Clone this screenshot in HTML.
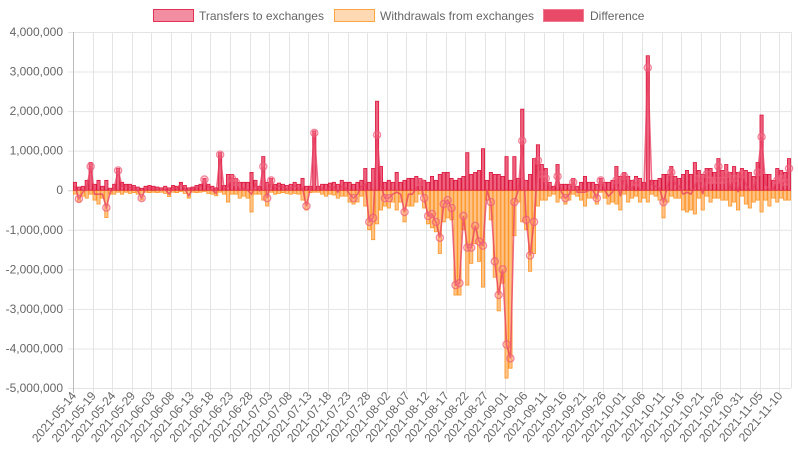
<!DOCTYPE html>
<html><head><meta charset="utf-8"><style>
html,body{margin:0;padding:0;background:#fff;width:798px;height:450px;overflow:hidden;font-family:"Liberation Sans",sans-serif;}
svg text{font-family:"Liberation Sans",sans-serif;fill:#666;font-size:12px;}
</style></head><body>
<svg id="chart" width="798" height="450" xmlns="http://www.w3.org/2000/svg">
  <g>
    <g>
      <rect x="153.5" y="9.5" width="40" height="12" fill="rgba(236,80,110,0.65)" stroke="rgb(226,50,85)" stroke-width="1"/>
      <text x="199" y="20">Transfers to exchanges</text>
    </g>
    <g>
      <rect x="334.5" y="9.5" width="40" height="12" fill="rgba(255,190,130,0.6)" stroke="rgb(255,165,70)" stroke-width="1"/>
      <text x="380" y="20">Withdrawals from exchanges</text>
    </g>
    <g>
      <rect x="543.5" y="9.5" width="40" height="12" fill="#e94a68" stroke="#f07a90" stroke-width="1"/>
      <text x="590" y="20">Difference</text>
    </g>
  </g>
  <g id="grid"></g>
  <g id="yaxis"></g>
  <g id="xaxis"></g>
  <g id="bars"></g>
  <g id="line"></g>
</svg>
<script>
// values in thousands
const transfers = [
200,80,100,250,700,150,250,100,250,50,
150,550,200,150,150,120,80,50,100,120,
100,80,60,100,60,120,100,200,120,60,
80,120,150,300,150,100,60,950,120,400,
400,300,200,200,200,450,250,100,850,200,
300,150,180,150,120,150,200,150,300,100,
100,1500,100,150,150,180,200,150,250,200,
200,150,200,250,550,200,550,2250,600,200,
250,200,450,200,250,300,300,350,300,250,
200,350,250,400,450,450,300,250,300,350,
950,400,450,500,1050,250,450,400,400,350,
850,250,850,300,2050,250,400,800,1150,650,
550,200,100,650,150,150,150,300,100,200,
350,200,200,150,300,200,200,
250,600,350,450,350,250,350,300,200,3400,
250,250,300,400,400,600,350,300,400,500,
400,700,500,400,550,550,450,800,500,650,
450,600,450,550,500,450,350,700,1900,400,
400,250,550,500,450,800];
const withdrawals = [
100,300,150,200,100,250,350,200,690,100,
100,50,100,50,80,60,100,250,50,60,
50,60,50,80,160,50,60,30,80,200,
50,60,50,30,80,100,140,50,100,300,
100,100,200,150,200,550,100,100,250,400,
50,100,80,60,80,100,80,100,250,500,
60,50,50,100,150,100,120,200,150,150,
300,350,300,150,400,1000,1250,850,500,400,
450,300,500,300,800,400,400,300,100,450,
850,950,1050,1600,800,700,750,2650,2650,1000,
2400,1850,1350,1800,2450,250,750,2200,3050,2350,
4750,4500,1150,300,800,1000,2050,1600,400,250,
250,150,100,300,200,350,250,100,150,250,
400,200,200,350,50,200,350,
300,350,500,100,300,200,150,300,200,300,
100,150,250,700,300,150,200,200,500,550,
500,600,200,500,150,300,200,200,250,250,
400,300,500,150,350,450,300,250,550,250,
400,200,300,200,250,250];
const yTicks = [4000000,3000000,2000000,1000000,0,-1000000,-2000000,-3000000,-4000000,-5000000];
const startDate = "2021-05-14";

const NS="http://www.w3.org/2000/svg";
const L=73,R=791,T=32,B=388,YMAX=4000000,YMIN=-5000000;
const n=transfers.length, bw=(R-L)/n;
const y=v=>T+(YMAX-v)/(YMAX-YMIN)*(B-T);
const xc=i=>L+(i+0.5)*bw;
function mk(tag,attrs,parent){const e=document.createElementNS(NS,tag);for(const k in attrs)e.setAttribute(k,attrs[k]);parent.appendChild(e);return e;}
const grid=document.getElementById('grid'),yax=document.getElementById('yaxis'),xax=document.getElementById('xaxis');
const dates=[];const d0=new Date(startDate+"T00:00:00Z");
for(let i=0;i<n;i++){const d=new Date(d0.getTime()+i*86400000);dates.push(d.toISOString().slice(0,10));}
yTicks.forEach(v=>{
  const g=mk('line',{x1:L-5,x2:R,y1:y(v)+0.5,y2:y(v)+0.5,stroke:v===0?'#d0d0d0':'#e4e4e4','stroke-width':1},grid);
  
  
  const t=mk('text',{x:L-10,y:y(v)+4,'text-anchor':'end'},yax);
  
  
  t.textContent=v.toLocaleString('en-US');
});
for(let i=0;i<n;i+=5){
  const gx=Math.round(L+i*bw)+0.5;
  const g=mk('line',{x1:gx,x2:gx,y1:T,y2:B+5,stroke:i===0?'#bbb':'#e4e4e4','stroke-width':1},grid);
  
  
  const tx=xc(i)+2,ty=396;
  const t=mk('text',{x:tx,y:ty,'text-anchor':'end',transform:`rotate(-50 ${tx} ${ty})`},xax);
  
  
  t.textContent=dates[i];
}
mk('line',{x1:R+0.5,x2:R+0.5,y1:T,y2:B,stroke:'#e4e4e4'},grid);
const bars=document.getElementById('bars');
const w=bw*0.82;
for(let i=0;i<n;i++){
  const v=-withdrawals[i]*1000;
  const r=mk('rect',{x:xc(i)-w/2,y:y(0),width:w,height:Math.max(0,y(v)-y(0)),fill:'rgba(255,175,95,0.75)',stroke:'rgb(255,150,40)','stroke-width':0.8},bars);
  
  
}
for(let i=0;i<n;i++){
  const v=transfers[i]*1000;
  const r=mk('rect',{x:xc(i)-w/2,y:y(v),width:w,height:Math.max(0,y(0)-y(v)),fill:'rgba(232,60,95,0.8)',stroke:'rgb(220,20,60)','stroke-width':0.8},bars);
  
  
}
const lg=document.getElementById('line');
let pts=[];
for(let i=0;i<n;i++){pts.push(xc(i).toFixed(2)+','+y((transfers[i]-withdrawals[i])*1000).toFixed(2));}
const pl=mk('polyline',{points:pts.join(' '),fill:'none',stroke:'rgba(232,60,95,0.75)','stroke-width':1.6},lg);


for(let i=0;i<n;i++){
  const dv=(transfers[i]-withdrawals[i])*1000;
  if(Math.abs(dv)<180000) continue;
  const c=mk('circle',{cx:xc(i),cy:y(dv),r:3.6,fill:'rgba(255,140,160,0.25)',stroke:'rgba(235,90,120,0.7)','stroke-width':1.3},lg);
  
  
}
</script>
</body></html>
